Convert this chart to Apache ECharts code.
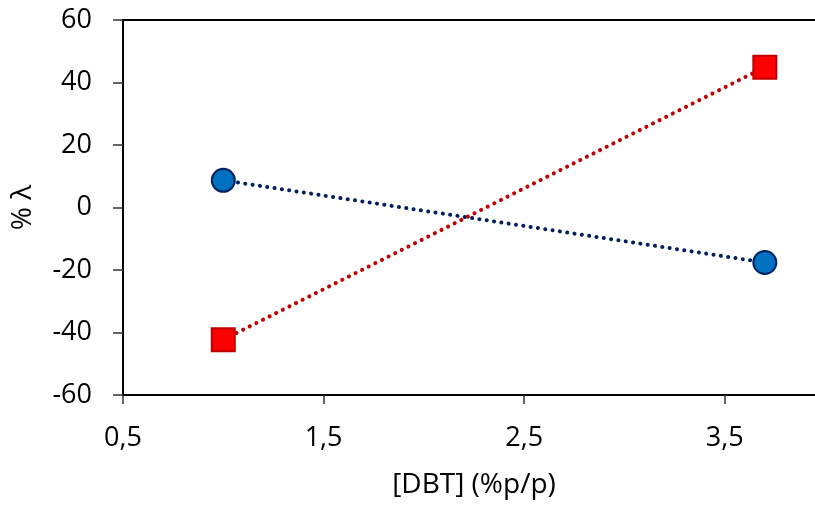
<!DOCTYPE html>
<html>
<head>
<meta charset="utf-8">
<script src="https://cdn.jsdelivr.net/npm/echarts@6/dist/echarts.min.js"></script>
<style>html,body{margin:0;padding:0;background:#fff}#c{width:815px;height:505px}</style>
</head>
<body>
<div id="c"></div>
<script>
var xValues = [1.0, 3.7];
var blueValues = [8.7, -17.6];
var redValues = [-42.3, 44.9];
var xTicks = [0.5, 1.5, 2.5, 3.5];
var yTicks = [-60, -40, -20, 0, 20, 40, 60];

var FONT = 'Open Sans';
var chart = echarts.init(document.getElementById('c'), null, {renderer: 'canvas'});
function pairs(xs, ys) { return xs.map(function (x, i) { return [x, ys[i]]; }); }
var dotted = [0.1, 7.3];
chart.setOption({
  animation: false,
  backgroundColor: '#fff',
  grid: {left: 123, top: 20, right: -10, bottom: 110, outerBoundsMode: 'none', containLabel: false,
    show: true, borderColor: '#000', borderWidth: 2, backgroundColor: 'transparent'},
  xAxis: {
    type: 'value', min: 0.5, max: 4.0,
    name: '[DBT] (%p/p)', nameLocation: 'middle', nameGap: 76,
    nameTextStyle: {fontFamily: FONT, fontSize: 28, color: '#000'},
    axisLine: {show: true, onZero: false, lineStyle: {color: '#000', width: 2}},
    axisTick: {show: true, length: 9, lineStyle: {color: '#333', width: 1.5}, customValues: xTicks},
    axisLabel: {customValues: xTicks, margin: 30, fontFamily: FONT, fontSize: 27, color: '#000',
      formatter: function (v) { return v.toFixed(1).replace('.', ','); }},
    splitLine: {show: false}
  },
  yAxis: {
    type: 'value', min: -60, max: 60, interval: 20,
    name: '% λ', nameLocation: 'middle', nameGap: 86, nameRotate: 90,
    nameTextStyle: {fontFamily: FONT, fontSize: 28, color: '#000'},
    axisLine: {show: true, onZero: false, lineStyle: {color: '#000', width: 2}},
    axisTick: {show: true, length: 10, lineStyle: {color: '#333', width: 1.5}},
    axisLabel: {margin: 31, fontFamily: FONT, fontSize: 27, color: '#000',
      formatter: function (v) { return String(v); }},
    splitLine: {show: false}
  },
  series: [
    {
      type: 'line', data: pairs(xValues, blueValues), symbol: 'circle', symbolSize: 23,
      itemStyle: {color: '#0070C0', borderColor: '#002060', borderWidth: 2},
      lineStyle: {color: '#002060', width: 4, type: dotted, cap: 'round'},
      z: 3
    },
    {
      type: 'line', data: pairs(xValues, redValues), symbol: 'rect', symbolSize: 23,
      itemStyle: {color: '#FF0000', borderColor: '#C00000', borderWidth: 2},
      lineStyle: {color: '#C00000', width: 4, type: dotted, cap: 'round'},
      z: 4
    }
  ]
});
</script>
</body>
</html>
